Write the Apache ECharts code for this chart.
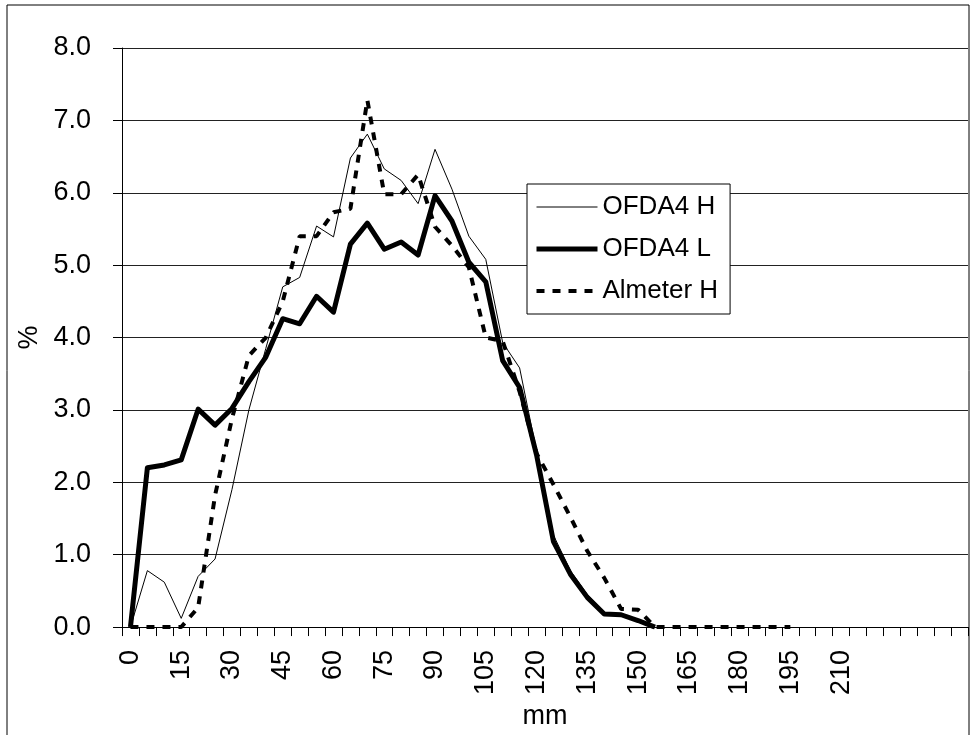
<!DOCTYPE html>
<html>
<head>
<meta charset="utf-8">
<script src="https://cdn.jsdelivr.net/npm/echarts@6/dist/echarts.min.js"></script>
<style>
html,body{margin:0;padding:0;background:#fff;}
#chart{width:978px;height:735px;}
</style>
</head>
<body>
<div id="chart"></div>
<script>
// categories in mm (0..210 labelled, trailing empty categories)
const mmValues = [0,5,10,15,20,25,30,35,40,45,50,55,60,65,70,75,80,85,90,95,100,105,110,115,120,125,130,135,140,145,150,155,160,165,170,175,180,185,190,195,200,205,210];
const emptyCategories = ['','','','','','',''];
const categories = mmValues.map(String).concat(emptyCategories);

const ofda4H = [0,0.78,0.62,0.12,0.70,0.94,1.90,3.00,3.85,4.70,4.83,5.54,5.39,6.48,6.81,6.33,6.17,5.85,6.60,6.05,5.40,5.08,3.93,3.58,2.43,1.27,0.78,0.45,0.20,0.16,0.08,0];
const ofda4L = [0,2.20,2.24,2.31,3.01,2.79,3.02,3.39,3.73,4.26,4.19,4.57,4.35,5.29,5.58,5.22,5.32,5.14,5.96,5.61,5.04,4.77,3.68,3.31,2.38,1.18,0.73,0.41,0.18,0.17,0.09,0];
const almeterH = [0,0,0,0,0.27,1.82,2.88,3.75,4.00,4.50,5.40,5.40,5.73,5.78,7.28,5.98,5.98,6.25,5.53,5.27,4.97,4.00,3.95,3.25,2.40,1.97,1.52,1.05,0.68,0.25,0.24,0,0,0,0,0,0,0,0,0];

const seriesNames = ['OFDA4 H','OFDA4 L','Almeter H'];
const yTicks = {min:0, max:8, interval:1};

const FONT = "'Liberation Sans', Arial, sans-serif";
const styles = [
  {color:'#000', width:1, type:'solid'},
  {color:'#000', width:5, type:'solid'},
  {color:'#000', width:4, type:[8,8]}
];
const chart = echarts.init(document.getElementById('chart'), null, {renderer:'canvas'});
chart.setOption({
  animation:false,
  backgroundColor:'#fff',
  textStyle:{fontFamily:FONT, color:'#000'},
  grid:{left:122, right:10, top:48, bottom:105, containLabel:false},
  graphic:[{
    type:'rect', silent:true, z:-1,
    shape:{x:7, y:5, width:962, height:760},
    style:{fill:'none', stroke:'#000', lineWidth:1}
  }],
  legend:{
    left:527, top:184,
    orient:'vertical',
    backgroundColor:'#fff',
    borderColor:'#000', borderWidth:1,
    padding:[8,12,8,7],
    itemWidth:61, itemHeight:14, itemGap:12,
    textStyle:{fontFamily:FONT, fontSize:26, color:'#000', lineHeight:30},
    data:seriesNames.map((n,i)=>({
      name:n,
      itemStyle:{opacity:0},
      lineStyle:{color:'#000', width:styles[i].width, type:styles[i].type, opacity:1}
    }))
  },
  xAxis:{
    type:'category',
    data:categories,
    boundaryGap:true,
    name:'mm', nameLocation:'middle', nameGap:70,
    nameTextStyle:{fontFamily:FONT, fontSize:27, color:'#000'},
    axisLine:{lineStyle:{color:'#000', width:1}},
    axisTick:{show:true, interval:0, length:9, inside:false, lineStyle:{color:'#000'}},
    axisLabel:{interval:2, rotate:90, margin:23, fontFamily:FONT, fontSize:27, color:'#000'},
    splitLine:{show:false}
  },
  yAxis:{
    type:'value',
    min:yTicks.min, max:yTicks.max, interval:yTicks.interval,
    name:'%', nameLocation:'middle', nameGap:76, nameRotate:90,
    nameTextStyle:{fontFamily:FONT, fontSize:27, color:'#000'},
    axisLine:{show:true, lineStyle:{color:'#000', width:1}},
    axisTick:{show:true, length:9, lineStyle:{color:'#000'}},
    axisLabel:{margin:31, fontFamily:FONT, fontSize:27, color:'#000', formatter:v=>v.toFixed(1)},
    splitLine:{show:true, lineStyle:{color:'#222', width:1}}
  },
  series:[
    {name:seriesNames[0], type:'line', data:ofda4H, symbol:'none', smooth:false,
     lineStyle:styles[0], itemStyle:{color:'#000'}, z:3},
    {name:seriesNames[1], type:'line', data:ofda4L, symbol:'none', smooth:false,
     lineStyle:Object.assign({join:'round'}, styles[1]), itemStyle:{color:'#000'}, z:2},
    {name:seriesNames[2], type:'line', data:almeterH, symbol:'none', smooth:false,
     lineStyle:styles[2], itemStyle:{color:'#000'}, z:4}
  ]
});
</script>
</body>
</html>
